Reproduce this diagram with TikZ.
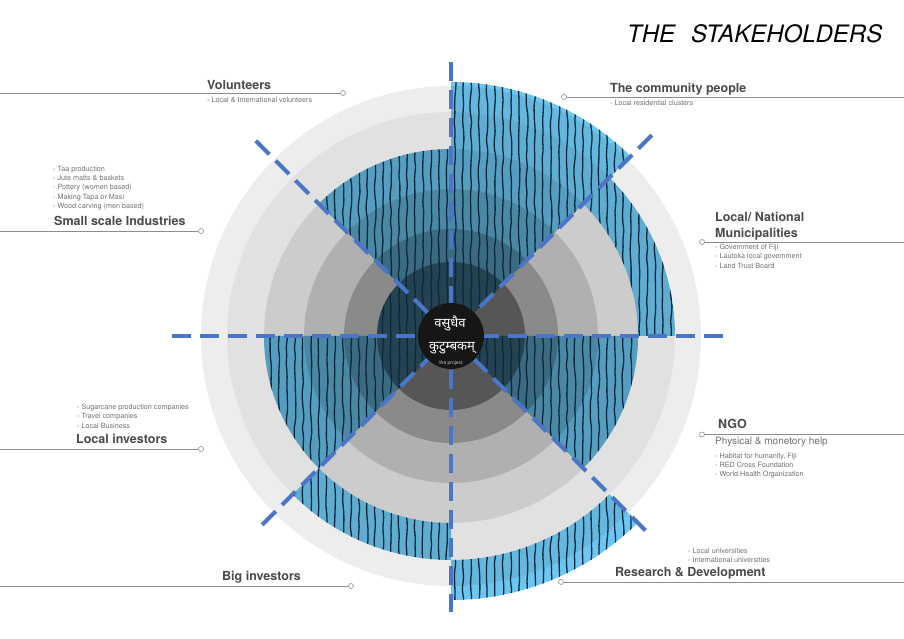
\documentclass[tikz,border=0pt]{standalone}
\usepackage{fontspec}
\setmainfont{TeX Gyre Heros}
\newfontfamily\devfont[Script=Devanagari]{Noto Sans}
\usetikzlibrary{decorations.pathmorphing}

\definecolor{ringA}{HTML}{EDEDED}
\definecolor{ringB}{HTML}{E1E1E1}
\definecolor{ringC}{HTML}{CCCCCC}
\definecolor{ringD}{HTML}{B0B0B0}
\definecolor{ringE}{HTML}{8A8A8A}
\definecolor{ringF}{HTML}{565656}
\definecolor{hubblack}{HTML}{161616}
\definecolor{sky}{HTML}{6CC6EF}
\definecolor{ink}{HTML}{0B2740}
\definecolor{axisblue}{HTML}{4B76C6}
\definecolor{headgray}{HTML}{4A4A4A}
\definecolor{notegray}{HTML}{707070}
\definecolor{leadgray}{HTML}{8C8C8C}

\begin{document}
\begin{tikzpicture}[x=1pt, y=1pt,
  head/.style={anchor=base west, inner sep=0pt, text=headgray, font=\fontsize{12.5}{16}\selectfont\bfseries},
  note/.style={anchor=north west, inner sep=0pt, align=left, text=notegray, font=\fontsize{7.2}{9.2}\selectfont},
  pin/.style={circle, draw=leadgray, fill=white, line width=0.6pt, minimum size=5pt, inner sep=0pt},
  leader/.style={draw=leadgray, line width=0.6pt},
  axis/.style={axisblue, line width=4.2pt, dash pattern=on 19pt off 9pt},
  stripe/.style={ink, line width=1.3pt, decorate, decoration={random steps, segment length=9pt, amplitude=1.1pt}, rounded corners=4pt}]
\useasboundingbox (0,0) rectangle (904,639);
\pgfmathsetseed{42}

% ---- title ----
\node[anchor=base west, inner sep=0pt, font=\fontsize{24}{28}\selectfont\itshape] (title) at (627,596) {THE\hspace{0.66em}STAKEHOLDERS};

% ---- rings, blue wedges, axes, hub ----
\begin{scope}[shift={(451,303)}]
\foreach \r/\c in {250/ringA,224/ringB,187/ringC,147/ringD,107/ringE,74/ringF}
  \fill[\c] (0,0) circle[radius=\r];

% wedges: start/end angle, outer/inner radius
\begin{scope}[blend mode=multiply]
\fill[sky] \foreach \a/\b/\ro/\ri in {90/135/187/0.1, 45/90/254/0.1, 0/45/224/187, -45/0/187/0.1,
    -90/-45/264/224, -135/-90/224/187, 180/225/187/0.1, 135/180/74/0.1}
  {(\a:\ri) -- (\a:\ro) arc[start angle=\a, end angle=\b, radius=\ro] -- (\b:\ri) arc[start angle=\b, end angle=\a, radius=\ri] -- cycle};
\end{scope}
\begin{scope}
\clip \foreach \a/\b/\ro/\ri in {90/135/187/0.1, 45/90/254/0.1, 0/45/224/187, -45/0/187/0.1,
    -90/-45/264/224, -135/-90/224/187, 180/225/187/0.1, 135/180/74/0.1}
  {(\a:\ri) -- (\a:\ro) arc[start angle=\a, end angle=\b, radius=\ro] -- (\b:\ri) arc[start angle=\b, end angle=\a, radius=\ri] -- cycle};
\foreach \x in {-268,-260,...,268}
  \draw[stripe] (\x,-272) -- (\x,272);
\end{scope}

\coordinate (axN) at (90:274);   \coordinate (axS) at (-90:276);
\coordinate (axE) at (0:279);    \coordinate (axW) at (180:279);
\coordinate (axNE) at (45:284);  \coordinate (axSW) at (225:268);
\coordinate (axNW) at (135:276); \coordinate (axSE) at (-45:280);
\draw[axis] (axN) -- (axS);
\draw[axis] (axW) -- (axE);
\draw[axis] (axNE) -- (axSW);
\draw[axis] (axNW) -- (axSE);

\node[circle, fill=hubblack, minimum size=66pt, inner sep=0pt] (hub) at (0,0) {};
\node[text=white, inner sep=0pt, font=\devfont\fontsize{13}{15}\selectfont] (motto1) at (-1,13) {वसुधैव};
\node[text=white, inner sep=0pt, font=\devfont\fontsize{13}{15}\selectfont] (motto2) at (1,-12) {कुटुम्बकम्};
\node[text=white!80!black, inner sep=0pt, font=\fontsize{5}{6}\selectfont] (proj) at (0,-27) {the project};
\end{scope}

% ---- volunteers ----
\node[head] (volHead) at (207,549.5) {Volunteers};
\node[note, anchor=base west] (volNote) at (207,536.5) {- Local \& International volunteers};
\coordinate (volEnd) at (0,546);
\node[pin] (volPin) at (343,546) {};
\draw[leader] (volEnd) -- (volPin);

% ---- community ----
\node[head] (comHead) at (610,546.5) {The community people};
\node[note, anchor=base west] (comNote) at (610,533.5) {- Local residential clusters};
\node[pin] (comPin) at (564,542) {};
\coordinate (comEnd) at (904,542);
\draw[leader] (comPin) -- (comEnd);

% ---- small scale industries ----
\node[note] (smiNote) at (53,473) {- Taa production\\- Jute matts \& baskets\\- Pottery (women based)\\- Making Tapa or Masi\\- Wood carving (men based)};
\node[head] (smiHead) at (54,413.5) {Small scale Industries};
\coordinate (smiEnd) at (0,408);
\node[pin] (smiPin) at (201,408) {};
\draw[leader] (smiEnd) -- (smiPin);

% ---- municipalities ----
\node[head, anchor=north west, align=left] (munHead) at (715,426.6) {Local/ National\\Municipalities};
\node[note] (munNote) at (715,394.8) {- Government of Fiji\\- Lautoka local government\\- Land Trust Board};
\node[pin] (munPin) at (702,397) {};
\coordinate (munEnd) at (904,397);
\draw[leader] (munPin) -- (munEnd);

% ---- local investors ----
\node[note] (linNote) at (77,234.8) {- Sugarcane production companies\\- Travel companies\\- Local Business};
\node[head] (linHead) at (76,195.5) {Local investors};
\coordinate (linEnd) at (0,190);
\node[pin] (linPin) at (201,190) {};
\draw[leader] (linEnd) -- (linPin);

% ---- NGO ----
\node[head] (ngoHead) at (718,210.5) {NGO};
\node[anchor=base west, inner sep=0pt, text=notegray, font=\fontsize{10}{12}\selectfont] (ngoHelp) at (715,194) {Physical \& monetory help};
\node[note] (ngoNote) at (715,186.3) {- Habitat for humanity, Fiji\\- RED Cross Foundation\\- World Health Organization};
\node[pin] (ngoPin) at (702,204.5) {};
\coordinate (ngoEnd) at (904,204.5);
\draw[leader] (ngoPin) -- (ngoEnd);

% ---- big investors ----
\node[head] (bigHead) at (222,58.5) {Big investors};
\coordinate (bigEnd) at (0,53);
\node[pin] (bigPin) at (351,53) {};
\draw[leader] (bigEnd) -- (bigPin);

% ---- research ----
\node[note] (rndNote) at (688,91.3) {- Local universities\\- International universities};
\node[head] (rndHead) at (615,62.5) {Research \& Development};
\node[pin] (rndPin) at (561,57) {};
\coordinate (rndEnd) at (904,57);
\draw[leader] (rndPin) -- (rndEnd);
\end{tikzpicture}
\end{document}
